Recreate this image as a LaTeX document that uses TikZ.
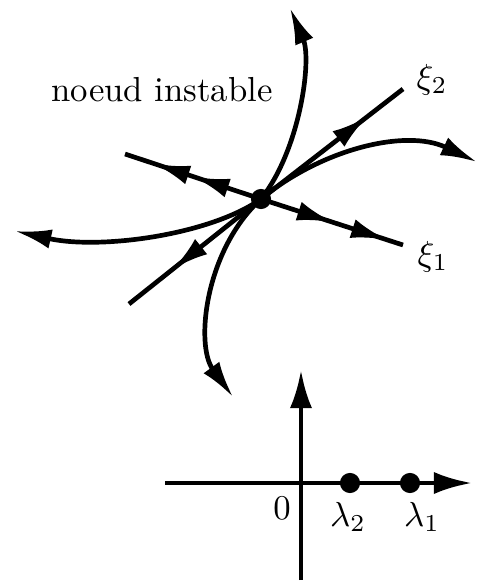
\documentclass[tikz,border=0pt]{standalone}
\usepackage{amsmath,amssymb}
\usepackage{tikz}
\usetikzlibrary{arrows.meta,decorations.markings}

\begin{document}
\begin{tikzpicture}[x=0.288pt, y=-0.288pt, >={Latex[length=10.5pt,width=5.6pt]}, line width=1.35pt,
  dot/.style={circle, fill, inner sep=0pt, minimum size=5.8pt},
  axis/.style={-{Latex[length=11pt,width=6.4pt]}},
  marks/.style={postaction={decorate}, decoration={markings, #1}}]
\useasboundingbox (0,0) rectangle (484,588);
% noeud et vecteurs propres
\coordinate (O) at (261,199);
\coordinate (xi1l) at (125,154);
\coordinate (xi1r) at (403,245);
\coordinate (xi2l) at (129,304);
\coordinate (xi2r) at (403,89);
\node (xi1) at (433,257) {$\xi_1$};
\node (xi2) at (432,80) {$\xi_2$};
\node (titre) at (162,90) {noeud instable};
\draw[marks={mark=at position 0.51 with {\arrow{>}}, mark=at position 0.89 with {\arrow{>}}}] (O) -- (xi1r);
\draw[marks={mark=at position 0.50 with {\arrow{>}}, mark=at position 0.79 with {\arrow{>}}}] (O) -- (xi1l);
\draw[marks={mark=at position 0.75 with {\arrow{>}}}] (O) -- (xi2r);
\draw[marks={mark=at position 0.67 with {\arrow{>}}}] (O) -- (xi2l);
% trajectoires
\coordinate (haut) at (290,8);
\coordinate (droite) at (477,162);
\coordinate (gauche) at (15,231);
\coordinate (bas) at (233,397);
\draw[->] (O) .. controls (300,150) and (312,60) .. (haut);
\draw[->] (O) .. controls (320,150) and (405,128) .. (droite);
\draw[->] (O) .. controls (210,235) and (100,250) .. (gauche);
\draw[->] (O) .. controls (205,250) and (195,345) .. (bas);
\node[dot] (pt) at (O) {};
% valeurs propres
\coordinate (axg) at (165,483);
\coordinate (axd) at (472,483);
\coordinate (axb) at (301,580);
\coordinate (axh) at (301,370);
\draw[axis] (axg) -- (axd);
\draw[axis] (axb) -- (axh);
\node[dot] (l2) at (350,483) {};
\node[dot] (l1) at (410,483) {};
\node (zero) at (282,508) {$0$};
\node (lab2) at (348,517) {$\lambda_2$};
\node (lab1) at (422,517) {$\lambda_1$};
\end{tikzpicture}
\end{document}
